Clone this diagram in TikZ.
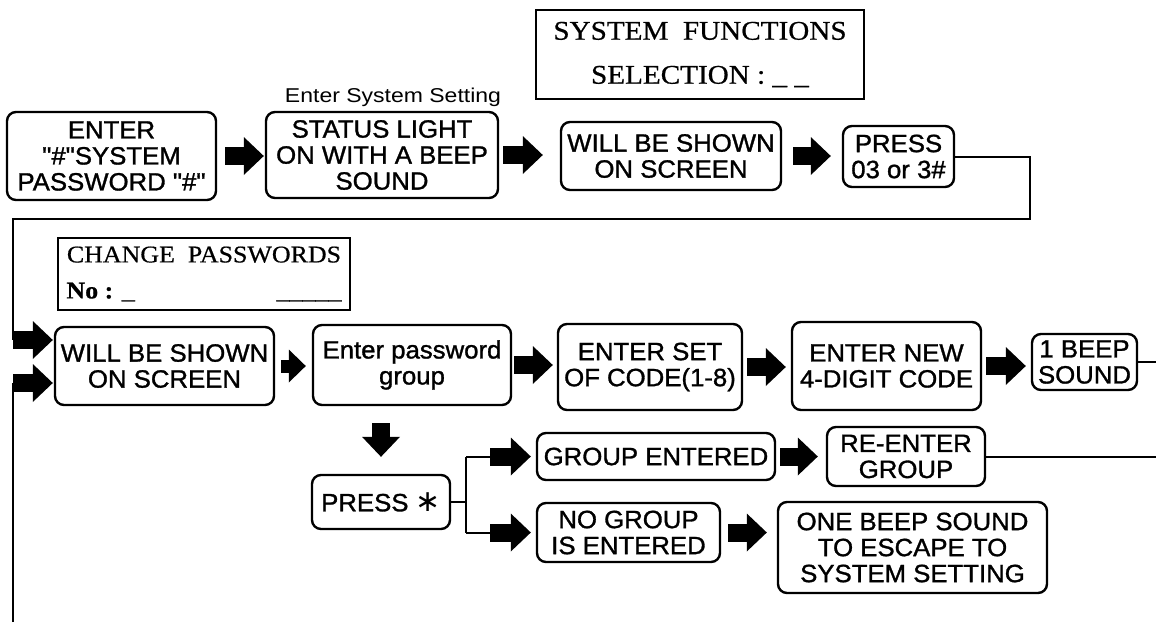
\documentclass[tikz,border=0pt]{standalone}
\usepackage{fontspec}
\setmainfont{Liberation Sans}[FakeStretch=1.03, FakeBold=1.2, Ligatures=TeXOff]
\newfontfamily\gothic{Liberation Sans}[FakeStretch=1.15]
\newfontfamily\dejavu{DejaVu Sans}
\newfontfamily\sboxfont{Liberation Serif}[FakeStretch=1.08, FakeBold=0.6]
\usetikzlibrary{arrows.meta}
\begin{document}
\begin{tikzpicture}[x=1pt,y=-1pt,
 bx/.style={draw, line width=2.4pt, rounded corners=9pt, align=center, inner sep=0pt, font=\fontsize{25}{26}\selectfont},
 sq/.style={draw, line width=2pt, inner sep=0pt, align=center},
 sz/.style 2 args={minimum width=#1pt, minimum height=#2pt},
 ln/.style={line width=2pt},
 blk/.style={line width=18pt, -{Triangle[length=20pt,width=38pt,line width=0pt]}},
 blks/.style={line width=13pt, -{Triangle[length=17pt,width=33pt,line width=0pt]}},
]
\useasboundingbox (0,0) rectangle (1156,622);

% display boxes
\node[sq, sz={328}{89}, font=\sboxfont\fontsize{27}{44}\selectfont] (sysf) at (700,54.5) {SYSTEM\ \ FUNCTIONS\\SELECTION : \_ \_};
\node[sq, sz={292}{72}, font=\sboxfont\fontsize{24}{36}\selectfont] (chg) at (204,274) {CHANGE\ \ PASSWORDS\\\makebox[275pt]{\textbf{No :} \_\hfill\_\_\_\_\_}};
\node[font=\gothic\fontsize{20}{21}\selectfont] (ess) at (393,97) {Enter System Setting};

% top row
\node[bx, sz={209}{88}] (enter) at (111.5,156) {ENTER\\"\#"SYSTEM\\PASSWORD "\#"};
\node[bx, sz={232}{86}] (status) at (382,155) {STATUS LIGHT\\ON WITH A BEEP\\SOUND};
\node[bx, sz={220}{68}] (w1) at (671,156) {WILL BE SHOWN\\ON SCREEN};
\node[bx, sz={111}{61}] (p03) at (898.5,156.5) {PRESS\\03 or 3\#};

% second row
\node[bx, sz={219}{78}] (w2) at (164.5,366) {WILL BE SHOWN\\ON SCREEN};
\node[bx, sz={198}{80}] (epw) at (412,365) {Enter password\\group};
\node[bx, sz={184}{86}] (eset) at (650,367) {ENTER SET\\OF CODE(1-8)};
\node[bx, sz={189}{88}] (enew) at (886.5,366) {ENTER NEW\\4-DIGIT CODE};
\node[bx, sz={105}{56}] (beep) at (1084.5,362) {1 BEEP\\SOUND};

% lower part
\node[bx, sz={138}{54}] (prs) at (381,502) {PRESS {\dejavu\fontsize{30}{30}\selectfont ∗}};
\node[bx, sz={238}{47}] (ge) at (656,456.5) {GROUP ENTERED};
\node[bx, sz={158}{59}] (re) at (906,456.5) {RE-ENTER\\GROUP};
\node[bx, sz={183}{59}] (ng) at (628.5,532.5) {NO GROUP\\IS ENTERED};
\node[bx, sz={269}{91}] (ob) at (912.5,547.5) {ONE BEEP SOUND\\TO ESCAPE TO\\SYSTEM SETTING};

% coordinates
\coordinate (tr) at (1030,219);
\coordinate (la1) at (13,340);
\coordinate (la2) at (13,383);
\coordinate (lb) at (13,622);
\coordinate (rr) at (1156,0);
\coordinate (br) at (466,0);

% block arrows
\draw[blk, shorten <=8pt, shorten >=1pt] (enter.east) -- (enter.east -| status.west);
\draw[blk, shorten <=4pt, shorten >=17pt] (status.east) -- (status.east -| w1.west);
\draw[blk, shorten <=11pt, shorten >=11pt] (w1.east) -- (w1.east -| p03.west);
\draw[blks, shorten <=6pt, shorten >=6pt] (w2.east) -- (w2.east -| epw.west);
\draw[blk, shorten <=2pt, shorten >=4pt] (epw.east) -- (epw.east -| eset.west);
\draw[blk, shorten <=4pt, shorten >=5pt] (eset.east) -- (eset.east -| enew.west);
\draw[blk, shorten <=4pt, shorten >=5pt] (enew.east) -- (enew.east -| beep.west);
\draw[blk, shorten <=17pt, shorten >=17pt] (prs.north |- epw.south) -- (prs.north);
\draw[blk, shorten <=4pt, shorten >=8pt] (ge.east) -- (ge.east -| re.west);
\draw[blk, shorten <=7pt, shorten >=10pt] (ng.east) -- (ng.east -| ob.west);

% loop lines
\draw[ln] (p03.east) -| (tr) -| (la1);
\draw[blk, shorten >=1pt] (la1) -- (la1 -| w2.west);
\draw[ln] (lb) -- (la2);
\draw[blk, shorten >=1pt] (la2) -- (la2 -| w2.west);
\draw[ln] (beep.east) -- (beep.east -| rr);
\draw[ln] (re.east) -- (re.east -| rr);

% branch
\draw[ln] (prs.east) -- (prs.east -| br);
\draw[ln] (ge.west -| br) -- (ng.west -| br);
\draw[ln] (ge.west -| br) -- ++(26,0);
\draw[ln] (ng.west -| br) -- ++(26,0);
\draw[blk, shorten <=24pt, shorten >=5pt] (ge.west -| br) -- (ge.west);
\draw[blk, shorten <=24pt, shorten >=5pt] (ng.west -| br) -- (ng.west);
\end{tikzpicture}
\end{document}
